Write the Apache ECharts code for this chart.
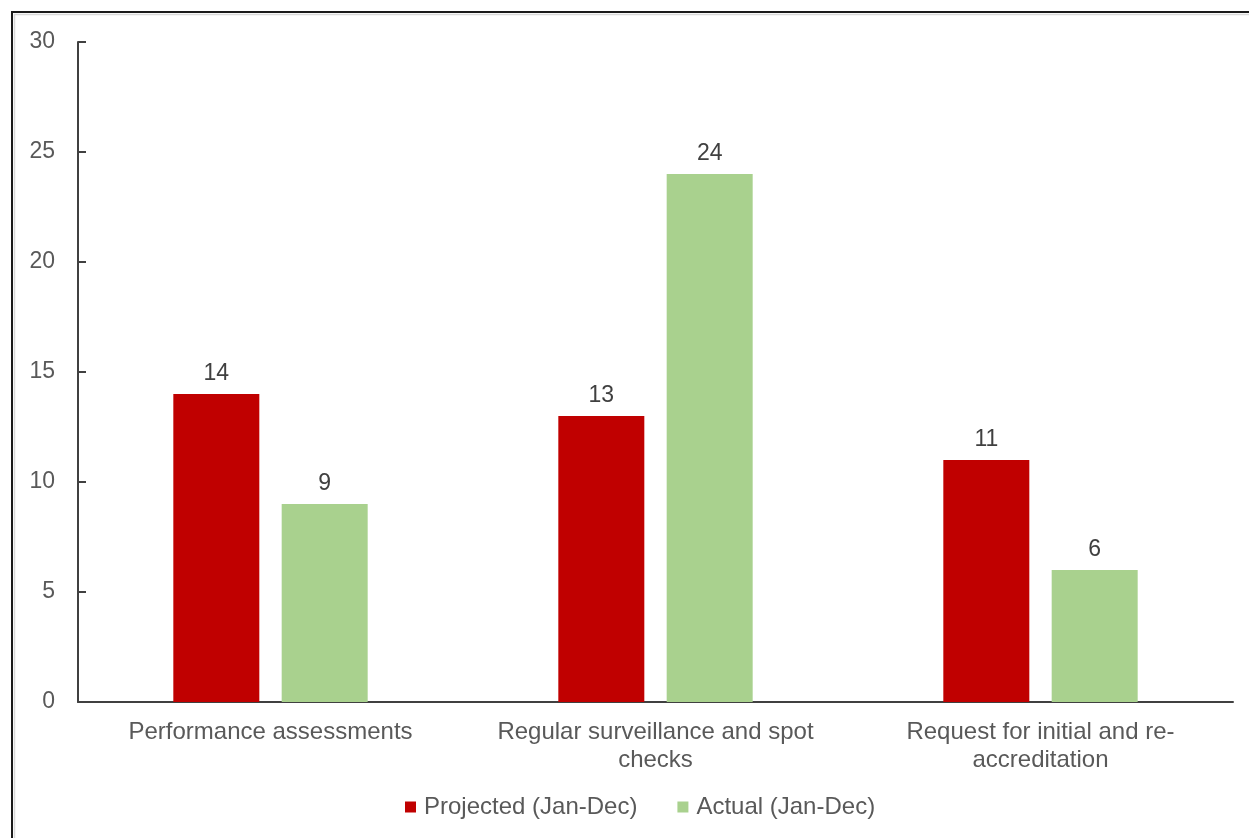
<!DOCTYPE html>
<html>
<head>
<meta charset="utf-8">
<script src="https://cdn.jsdelivr.net/npm/echarts@6/dist/echarts.min.js"></script>
<style>
  html, body { margin: 0; padding: 0; background: #fff; }
  #chart { width: 1249px; height: 838px; }
</style>
</head>
<body>
<div id="chart"></div>
<script>
// Category labels (line breaks as shown under the axis)
const categories = [
  'Performance assessments',
  'Regular surveillance and spot\nchecks',
  'Request for initial and re-\naccreditation'
];
const projected = [14, 13, 11];
const actual = [9, 24, 6];
const seriesNames = ['Projected (Jan-Dec)', 'Actual (Jan-Dec)'];

const textGray = '#595959';
const labelDark = '#404040';
const font = 'Liberation Sans, Arial, sans-serif';
const fsText = 24;
const fsNum = 23;

const chart = echarts.init(document.getElementById('chart'), null, { renderer: 'canvas' });

chart.setOption({
  backgroundColor: '#fff',
  animation: false,
  graphic: [
    { type: 'rect', shape: { x: 12, y: 12, width: 1400, height: 1000 },
      style: { fill: 'none', stroke: '#1a1a1a', lineWidth: 2 }, silent: true },
    { type: 'rect', shape: { x: 14.5, y: 14.5, width: 1400, height: 1000 },
      style: { fill: 'none', stroke: '#d9d9d9', lineWidth: 1.5 }, silent: true }
  ],
  grid: { left: 78, right: 16, top: 42, bottom: 136, containLabel: false },
  legend: {
    bottom: 14,
    left: 400,
    itemWidth: 11,
    itemHeight: 11,
    itemGap: 40,
    icon: 'rect',
    textStyle: { color: textGray, fontSize: fsText, fontFamily: font, padding: [0, 0, 0, 3] },
    data: seriesNames
  },
  xAxis: {
    type: 'category',
    data: categories,
    axisLine: { lineStyle: { color: '#404040', width: 2 } },
    axisTick: { show: false },
    axisLabel: {
      interval: 0,
      color: textGray,
      fontSize: fsText,
      fontFamily: font,
      lineHeight: 28,
      margin: 16
    }
  },
  yAxis: {
    type: 'value',
    min: 0,
    max: 30,
    interval: 5,
    splitLine: { show: false },
    axisLine: { show: true, lineStyle: { color: '#404040', width: 2 } },
    axisTick: { show: true, inside: true, length: 8, lineStyle: { color: '#404040', width: 2 } },
    axisLabel: { color: textGray, fontSize: fsNum, fontFamily: font, margin: 23, align: 'right' }
  },
  series: [
    {
      name: seriesNames[0],
      type: 'bar',
      data: projected,
      barWidth: 86,
      barGap: '26%',
      itemStyle: { color: '#C00000' },
      label: { show: true, position: 'top', distance: 9, color: labelDark, fontSize: fsNum, fontFamily: font }
    },
    {
      name: seriesNames[1],
      type: 'bar',
      data: actual,
      barWidth: 86,
      barGap: '26%',
      itemStyle: { color: '#A9D18E' },
      label: { show: true, position: 'top', distance: 9, color: labelDark, fontSize: fsNum, fontFamily: font }
    }
  ]
});
</script>
</body>
</html>
